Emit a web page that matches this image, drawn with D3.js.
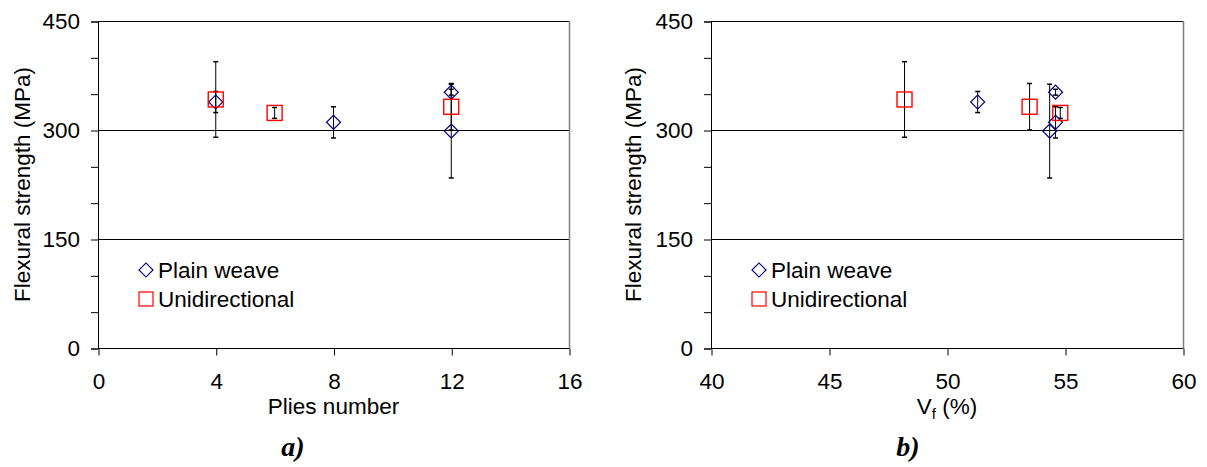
<!DOCTYPE html>
<html>
<head>
<meta charset="utf-8">
<script src="https://cdn.jsdelivr.net/npm/d3@7.9.0/dist/d3.min.js"></script>
<style>
  body { margin: 0; background: #fff; }
  svg { display: block; font-family: "Liberation Sans", Arial, sans-serif; }
</style>
</head>
<body>
<svg id="chart" width="1207" height="467"></svg>
<script>
// ---------- DATA ----------
// Plain weave: plies, fibre volume fraction, flexural strength, std dev
const plainPlies = [4, 8, 12, 12];
const plainVf = [51.3, 54.6, 54.6, 54.35];
const plainStrength = [338.5, 310.5, 352, 298.5];
const plainErr = [14.5, 21.5, 4, 64.5];

// Unidirectional
const udPlies = [4, 6, 12];
const udVf = [48.2, 54.8, 53.5];
const udStrength = [342, 323.5, 332];
const udErr = [52, 7.5, 32];

const yTicks = [0, 50, 100, 150, 200, 250, 300, 350, 400, 450];
const yLabelTicks = [0, 150, 300, 450];
const pliesTicks = [0, 4, 8, 12, 16];
const vfTicks = [40, 45, 50, 55, 60];

const fontSize = "22.5px";
const svg = d3.select("#chart");

const plotTop = 21, plotBottom = 348;
const yScale = d3.scaleLinear().domain([0, 450]).range([plotBottom, plotTop]);

function panel(opts) {
  const x = d3.scaleLinear().domain(opts.domain).range(opts.range);
  const g = svg.append("g");

  // horizontal gridlines at labelled values
  g.selectAll(".grid")
    .data(yLabelTicks.filter(d => d > 0))
    .join("line")
    .attr("x1", opts.range[0]).attr("x2", opts.range[1])
    .attr("y1", d => Math.round(yScale(d)) + 0.5)
    .attr("y2", d => Math.round(yScale(d)) + 0.5)
    .attr("stroke", "#000").attr("stroke-width", 1);

  // right border
  g.append("line")
    .attr("x1", opts.range[1] + 0.5).attr("x2", opts.range[1] + 0.5)
    .attr("y1", plotTop).attr("y2", plotBottom)
    .attr("stroke", "#808080").attr("stroke-width", 1.5);

  // axes
  const yAxis = d3.axisLeft(yScale)
    .tickValues(yTicks)
    .tickSize(7)
    .tickPadding(11)
    .tickFormat(d => yLabelTicks.includes(d) ? d : "");
  const ya = g.append("g")
    .attr("transform", `translate(${opts.range[0]},0.5)`)
    .call(yAxis);

  const xAxis = d3.axisBottom(x)
    .tickValues(opts.ticks)
    .tickSize(7)
    .tickPadding(18);
  const xa = g.append("g")
    .attr("transform", `translate(0.5,${plotBottom + 0.5})`)
    .call(xAxis);

  [ya, xa].forEach(a => {
    a.select(".domain").attr("stroke", "#000");
    a.selectAll(".tick line").attr("stroke", "#000");
    a.selectAll("text").attr("font-size", fontSize).attr("fill", "#000")
      .attr("font-family", "Liberation Sans, Arial, sans-serif");
  });
  xa.select(".domain").attr("d", `M${opts.range[0]},0H${opts.range[1]}`);

  // y title
  g.append("text")
    .attr("transform", `translate(${opts.yTitleX},${(plotTop + plotBottom) / 2}) rotate(-90)`)
    .attr("text-anchor", "middle")
    .attr("dy", "0.35em")
    .attr("font-size", fontSize)
    .text("Flexural strength (MPa)");

  // x title
  const xt = g.append("text")
    .attr("x", (opts.range[0] + opts.range[1]) / 2)
    .attr("y", 414)
    .attr("text-anchor", "middle")
    .attr("font-size", fontSize);
  opts.xTitle(xt);

  // panel letter
  g.append("text")
    .attr("x", opts.letterX)
    .attr("y", 456)
    .attr("text-anchor", "middle")
    .attr("font-family", "Liberation Serif, 'Times New Roman', serif")
    .attr("font-weight", "bold")
    .attr("font-style", "italic")
    .attr("font-size", "28px")
    .text(opts.letter);

  // error bars
  const bars = [];
  opts.px.forEach((v, i) => bars.push({ x: v, y: plainStrength[i], e: plainErr[i] }));
  opts.ux.forEach((v, i) => bars.push({ x: v, y: udStrength[i], e: udErr[i] }));
  const eb = g.append("g").attr("stroke", "#000").attr("stroke-width", 1);
  bars.forEach(b => {
    const cx = x(b.x);
    eb.append("line").attr("x1", cx).attr("x2", cx)
      .attr("y1", yScale(b.y + b.e)).attr("y2", yScale(b.y - b.e));
    [b.y + b.e, b.y - b.e].forEach(v => {
      eb.append("line").attr("x1", cx - 2.5).attr("x2", cx + 2.5)
        .attr("y1", yScale(v)).attr("y2", yScale(v)).attr("stroke-width", 1.5);
    });
  });

  // markers
  g.selectAll(".diamond")
    .data(opts.px.map((v, i) => [v, plainStrength[i]]))
    .join("path")
    .attr("d", d3.symbol(d3.symbolSquare, 98)())
    .attr("transform", d => `translate(${x(d[0])},${yScale(d[1])}) rotate(45)`)
    .attr("fill", "none").attr("stroke", "#000080").attr("stroke-width", 1.2);

  g.selectAll(".square")
    .data(opts.ux.map((v, i) => [v, udStrength[i]]))
    .join("rect")
    .attr("x", d => x(d[0]) - 7.5).attr("y", d => yScale(d[1]) - 7.5)
    .attr("width", 15).attr("height", 15)
    .attr("fill", "none").attr("stroke", "#ff0000").attr("stroke-width", 1.4);

  // legend
  const lx = opts.range[0] + 48;
  g.append("path")
    .attr("d", d3.symbol(d3.symbolSquare, 98)())
    .attr("transform", `translate(${lx},270) rotate(45)`)
    .attr("fill", "none").attr("stroke", "#000080").attr("stroke-width", 1.2);
  g.append("text").attr("x", lx + 12).attr("y", 277.5)
    .attr("font-size", fontSize).text("Plain weave");
  g.append("rect")
    .attr("x", lx - 7).attr("y", 292).attr("width", 14).attr("height", 14)
    .attr("fill", "none").attr("stroke", "#ff0000").attr("stroke-width", 1.2);
  g.append("text").attr("x", lx + 12).attr("y", 306.5)
    .attr("font-size", fontSize).text("Unidirectional");
}

panel({
  domain: [0, 16], range: [98, 569], ticks: pliesTicks,
  px: plainPlies, ux: udPlies,
  yTitleX: 22, letter: "a)", letterX: 293,
  xTitle: t => t.text("Plies number")
});

panel({
  domain: [40, 60], range: [711, 1183], ticks: vfTicks,
  px: plainVf, ux: udVf,
  yTitleX: 633, letter: "b)", letterX: 908,
  xTitle: t => {
    t.append("tspan").text("V");
    t.append("tspan").attr("font-size", "15px").attr("dy", "5").text("f");
    t.append("tspan").attr("dy", "-5").text(" (%)");
  }
});
</script>
</body>
</html>
